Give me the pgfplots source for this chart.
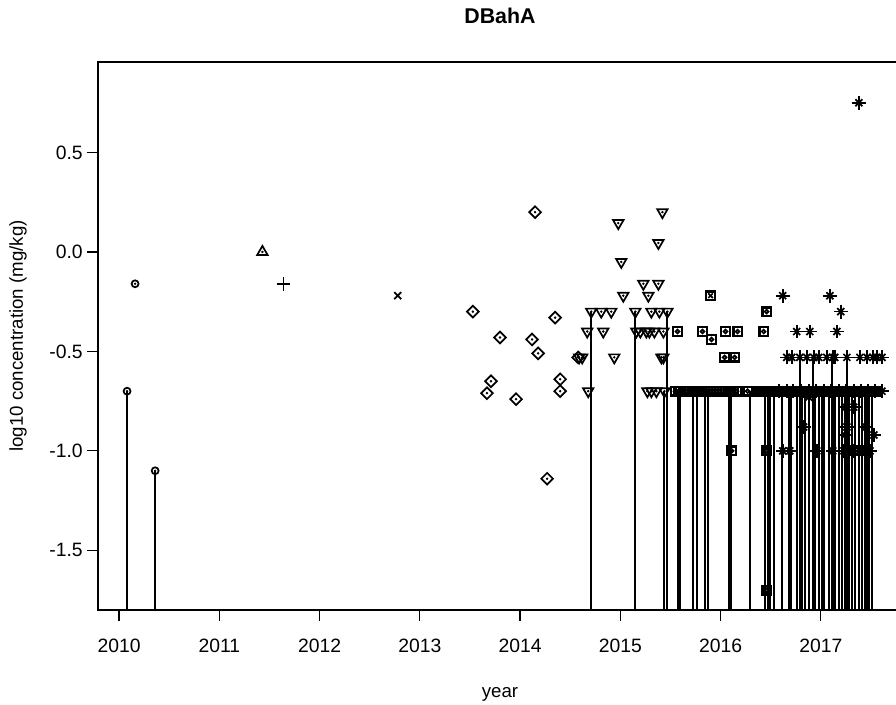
\documentclass[border=0pt]{standalone}
\usepackage{pgfplots}
\pgfplotsset{compat=1.18}
\usepackage{pgfplotstable}
\usepackage{fontspec}
\setmainfont{Liberation Sans}

% circles (2010)
\pgfplotstableread[row sep=\\]{x y\\
2010.08 -0.70\\ 2010.16 -0.16\\ 2010.36 -1.10\\
}\circdata
\pgfplotstableread[row sep=\\]{x y\\ 2011.43 0.00\\}\triupdata
\pgfplotstableread[row sep=\\]{x y\\ 2011.64 -0.16\\}\plusdata
\pgfplotstableread[row sep=\\]{x y\\ 2012.78 -0.22\\}\timesdata
% diamonds
\pgfplotstableread[row sep=\\]{x y\\
2013.53 -0.30\\ 2013.67 -0.71\\ 2013.71 -0.65\\ 2013.80 -0.43\\ 2013.96 -0.74\\
2014.12 -0.44\\ 2014.15 0.20\\ 2014.18 -0.51\\ 2014.27 -1.14\\ 2014.35 -0.33\\
2014.40 -0.64\\ 2014.40 -0.70\\ 2014.58 -0.53\\
}\diadata
% triangles down
\pgfplotstableread[row sep=\\]{x y\\
2014.59 -0.53\\ 2014.62 -0.53\\ 2014.67 -0.40\\ 2014.68 -0.70\\ 2014.71 -0.30\\
2014.81 -0.30\\ 2014.83 -0.40\\ 2014.91 -0.30\\ 2014.94 -0.53\\ 2014.98 0.145\\
2015.01 -0.05\\ 2015.03 -0.22\\ 2015.15 -0.30\\ 2015.16 -0.40\\ 2015.20 -0.40\\
2015.23 -0.16\\ 2015.26 -0.40\\ 2015.27 -0.70\\ 2015.28 -0.22\\ 2015.29 -0.40\\
2015.31 -0.30\\ 2015.31 -0.70\\ 2015.34 -0.40\\ 2015.36 -0.70\\ 2015.38 0.045\\
2015.38 -0.16\\ 2015.39 -0.30\\ 2015.41 -0.53\\ 2015.42 0.20\\ 2015.43 -0.40\\
2015.43 -0.53\\ 2015.44 -0.70\\ 2015.47 -0.30\\
}\tridata
% squares
\pgfplotstableread[row sep=\\]{x y\\
2015.57 -0.40\\ 2015.82 -0.40\\ 2015.91 -0.44\\ 2016.04 -0.53\\ 2016.05 -0.40\\
2016.14 -0.53\\ 2016.17 -0.40\\ 2016.43 -0.40\\ 2016.46 -0.30\\ 2016.11 -1.00\\
2016.46 -1.00\\ 2016.46 -1.70\\ 2017.33 -1.00\\ 2017.38 -1.00\\ 2017.43 -1.00\\
2015.55 -0.70\\ 2015.58 -0.70\\ 2015.60 -0.70\\ 2015.63 -0.70\\ 2015.66 -0.70\\
2015.69 -0.70\\ 2015.73 -0.70\\ 2015.77 -0.70\\ 2015.80 -0.70\\ 2015.84 -0.70\\
2015.87 -0.70\\ 2015.90 -0.70\\ 2015.93 -0.70\\ 2015.96 -0.70\\ 2015.99 -0.70\\
2016.02 -0.70\\ 2016.05 -0.70\\ 2016.08 -0.70\\ 2016.10 -0.70\\ 2016.13 -0.70\\
2016.16 -0.70\\ 2016.27 -0.70\\
2016.38 -0.70\\ 2016.40 -0.70\\ 2016.42 -0.70\\ 2016.44 -0.70\\ 2016.46 -0.70\\
2016.48 -0.70\\ 2016.50 -0.70\\ 2016.52 -0.70\\ 2016.54 -0.70\\ 2016.56 -0.70\\
2016.58 -0.70\\ 2016.60 -0.70\\ 2016.62 -0.70\\ 2016.64 -0.70\\ 2016.66 -0.70\\
2016.68 -0.70\\ 2016.70 -0.70\\ 2016.72 -0.70\\ 2016.74 -0.70\\ 2016.76 -0.70\\
2016.78 -0.70\\ 2016.80 -0.70\\ 2016.82 -0.70\\ 2016.84 -0.70\\ 2016.86 -0.70\\
2016.88 -0.70\\ 2016.90 -0.70\\ 2016.92 -0.70\\ 2016.94 -0.70\\ 2016.96 -0.70\\
2016.98 -0.70\\ 2017.00 -0.70\\ 2017.02 -0.70\\ 2017.04 -0.70\\ 2017.06 -0.70\\
2017.08 -0.70\\ 2017.10 -0.70\\ 2017.12 -0.70\\ 2017.14 -0.70\\ 2017.16 -0.70\\
2017.18 -0.70\\ 2017.20 -0.70\\ 2017.22 -0.70\\ 2017.24 -0.70\\ 2017.26 -0.70\\
2017.28 -0.70\\ 2017.30 -0.70\\ 2017.32 -0.70\\ 2017.34 -0.70\\ 2017.36 -0.70\\
2017.38 -0.70\\ 2017.40 -0.70\\ 2017.42 -0.70\\ 2017.44 -0.70\\ 2017.46 -0.70\\
2017.48 -0.70\\ 2017.50 -0.70\\ 2017.52 -0.70\\ 2017.54 -0.70\\ 2017.56 -0.70\\
}\sqdata
\pgfplotstableread[row sep=\\]{x y\\ 2015.90 -0.22\\}\sqxdata
% asterisks
\pgfplotstableread[row sep=\\]{x y\\
2017.38 0.75\\ 2016.62 -0.22\\ 2017.09 -0.22\\ 2017.20 -0.30\\ 2016.76 -0.40\\
2016.89 -0.40\\ 2017.16 -0.40\\
2016.66 -0.53\\ 2016.71 -0.53\\ 2016.79 -0.53\\ 2016.86 -0.53\\ 2016.93 -0.53\\
2016.98 -0.53\\ 2017.06 -0.53\\ 2017.12 -0.53\\ 2017.14 -0.53\\ 2017.26 -0.53\\
2017.39 -0.53\\ 2017.46 -0.53\\ 2017.52 -0.53\\ 2017.56 -0.53\\ 2017.61 -0.53\\
2016.58 -0.70\\ 2016.66 -0.70\\ 2016.72 -0.70\\ 2016.80 -0.70\\ 2016.88 -0.70\\
2016.95 -0.70\\ 2017.03 -0.70\\ 2017.10 -0.70\\ 2017.18 -0.70\\ 2017.25 -0.70\\
2017.33 -0.70\\ 2017.40 -0.70\\ 2017.47 -0.70\\ 2017.54 -0.70\\ 2017.61 -0.70\\
2016.88 -0.73\\ 2017.25 -0.78\\ 2017.33 -0.78\\ 2016.83 -0.88\\ 2017.26 -0.88\\
2017.45 -0.88\\ 2017.24 -0.92\\ 2017.53 -0.92\\
2016.62 -1.00\\ 2016.69 -1.00\\ 2016.96 -1.00\\ 2017.12 -1.00\\ 2017.23 -1.00\\
2017.33 -1.00\\ 2017.41 -1.00\\ 2017.49 -1.00\\
}\astdata
% values below the reporting limit: drawn with a line down to the axis
\pgfplotstableread[row sep=\\]{x y\\
2010.08 -0.70\\ 2010.36 -1.10\\ 2014.71 -0.30\\ 2015.15 -0.30\\ 2015.47 -0.30\\
2015.44 -0.70\\ 2015.58 -0.70\\ 2015.60 -0.70\\ 2015.73 -0.70\\ 2015.77 -0.70\\
2015.84 -0.70\\ 2015.87 -0.70\\ 2016.08 -0.70\\ 2016.10 -0.70\\ 2016.29 -0.70\\
2016.44 -0.70\\ 2016.47 -0.70\\ 2016.49 -0.70\\ 2016.53 -0.70\\ 2016.61 -0.70\\
2016.68 -0.70\\ 2016.70 -0.70\\ 2016.76 -0.70\\ 2016.81 -0.70\\ 2016.84 -0.70\\
2016.88 -0.70\\ 2016.94 -0.70\\ 2016.98 -0.70\\ 2017.01 -0.70\\ 2017.03 -0.70\\
2017.08 -0.70\\ 2017.12 -0.70\\ 2017.14 -0.70\\ 2017.18 -0.70\\ 2017.21 -0.70\\
2017.24 -0.70\\ 2017.28 -0.70\\ 2017.31 -0.70\\ 2017.34 -0.70\\ 2017.38 -0.70\\
2017.41 -0.70\\ 2017.44 -0.70\\ 2017.46 -0.70\\ 2017.48 -0.70\\ 2017.51 -0.70\\
2016.79 -0.53\\ 2016.92 -0.53\\ 2017.11 -0.53\\ 2017.26 -0.53\\
}\censdata

\pgfplotsset{
  pt/.style={only marks, black, mark options={solid, line width=1.3pt, fill=none}},
  dot/.style={only marks, black, mark=*, mark size=0.7pt},
}

\begin{document}
\begin{tikzpicture}
\begin{axis}[
  at={(0,0)}, anchor=south west,
  scale only axis, width=603pt, height=411pt,
  xmin=2009.79, xmax=2017.81, ymin=-1.80, ymax=0.955,
  xtick={2010,2011,2012,2013,2014,2015,2016,2017},
  xticklabels={2010,2011,2012,2013,2014,2015,2016,2017},
  ytick={-1.5,-1,-0.5,0,0.5},
  yticklabels={-1.5,-1.0,-0.5,0.0,0.5},
  tick align=outside, xtick pos=left, ytick pos=left,
  major tick length=8pt,
  tick style={black, line width=0.9pt},
  axis line style={line width=1.1pt},
  ticklabel style={font=\fontsize{14.5}{17}\selectfont},
  xticklabel style={yshift=-10pt},
  xlabel={year}, ylabel={log10 concentration (mg/kg)},
  label style={font=\fontsize{14}{17}\selectfont},
  xlabel style={at={(axis description cs:0.5,0)}, anchor=center, yshift=-63pt},
  ylabel style={at={(axis description cs:-0.0995,0.5)}, anchor=center},
  title={DBahA},
  title style={font=\fontsize{16}{19}\selectfont\bfseries, at={(0.5,1)}, anchor=center, yshift=28.5pt},
]
\addplot[draw=none, mark=none, forget plot, error bars/.cd, y dir=minus, y fixed=3, error mark=none,
  error bar style={draw=black, solid, line width=1.5pt}] table {\censdata};

\addplot[pt, mark=o, mark size=2.6pt] table {\circdata};
\addplot[dot] table {\circdata};
\addplot[pt, mark=triangle, mark size=4.5pt] table {\triupdata};
\addplot[dot] table {\triupdata};
\addplot[pt, mark=+, mark size=5.2pt] table {\plusdata};
\addplot[pt, mark=x, mark size=3.7pt] table {\timesdata};
\addplot[pt, mark=square, mark size=3.1pt, every mark/.append style={rotate=45}] table {\diadata};
\addplot[dot] table {\diadata};
\addplot[pt, mark=triangle, mark size=4.5pt, every mark/.append style={rotate=180}] table {\tridata};
\addplot[dot] table {\tridata};
\addplot[pt, mark=square, mark size=3.2pt, every mark/.append style={line width=1.8pt}] table {\sqdata};
\addplot[pt, mark=o, mark size=1.4pt] table {\sqdata};
\addplot[pt, mark=square, mark size=3.2pt, every mark/.append style={line width=1.8pt}] table {\sqxdata};
\addplot[pt, mark=x, mark size=2.4pt] table {\sqxdata};
\addplot[pt, mark=+, mark size=5.2pt] table {\astdata};
\addplot[pt, mark=x, mark size=3.7pt] table {\astdata};
\end{axis}
\pgfresetboundingbox
\useasboundingbox (-73.5pt,-70.5pt) rectangle (598.5pt,457.5pt);
\end{tikzpicture}
\end{document}
